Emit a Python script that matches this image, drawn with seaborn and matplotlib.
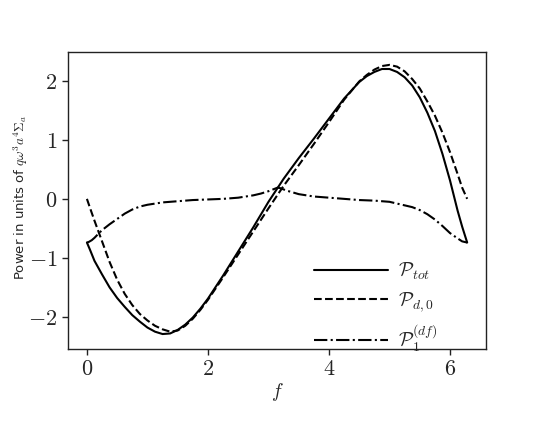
import matplotlib
matplotlib.use('Agg')
import matplotlib.pyplot as plt
import seaborn as sns
import pandas as pd

# 读图估计的数据: 实线与虚线共用 f_main，点划线用 f_df
f_main = [0.0, 0.05, 0.125, 0.25, 0.375, 0.5, 0.625, 0.75, 0.875, 1.0, 1.125, 1.25, 1.375,
          1.5, 1.625, 1.75, 1.875, 2.0, 2.25, 2.5, 2.75, 3.0, 3.25, 3.5, 3.75, 4.0, 4.25,
          4.5, 4.625, 4.75, 4.875, 5.0, 5.125, 5.25, 5.375, 5.5, 5.625, 5.75, 5.875, 6.0,
          6.125, 6.2, 6.283]
p_tot = [-0.74, -0.86, -1.05, -1.28, -1.50, -1.68, -1.83, -1.97, -2.08, -2.18, -2.25, -2.29,
         -2.28, -2.22, -2.13, -2.01, -1.86, -1.69, -1.30, -0.89, -0.48, -0.05, 0.34, 0.69,
         1.02, 1.36, 1.70, 1.98, 2.08, 2.15, 2.20, 2.20, 2.15, 2.06, 1.92, 1.72, 1.46, 1.15,
         0.76, 0.31, -0.20, -0.47, -0.74]
p_d0 = [0.0, -0.15, -0.37, -0.72, -1.07, -1.37, -1.61, -1.80, -1.95, -2.06, -2.15, -2.21,
        -2.25, -2.23, -2.15, -2.03, -1.88, -1.71, -1.33, -0.94, -0.55, -0.16, 0.22, 0.57,
        0.93, 1.30, 1.68, 1.99, 2.10, 2.19, 2.25, 2.27, 2.24, 2.16, 2.03, 1.87, 1.65, 1.41,
        1.12, 0.79, 0.42, 0.19, 0.0]

f_df = [0.0, 0.03, 0.08, 0.125, 0.21, 0.25, 0.375, 0.5, 0.625, 0.75, 0.875, 1.0, 1.25, 1.5,
        1.75, 2.0, 2.25, 2.5, 2.75, 2.875, 3.0, 3.1, 3.15, 3.2, 3.3, 3.5, 3.75, 4.0, 4.25,
        4.5, 4.75, 5.0, 5.125, 5.25, 5.375, 5.5, 5.625, 5.75, 5.875, 6.0, 6.125, 6.2, 6.283]
p_df = [-0.74, -0.73, -0.70, -0.66, -0.57, -0.53, -0.43, -0.34, -0.25, -0.18, -0.13, -0.10,
        -0.06, -0.04, -0.02, -0.01, 0.0, 0.02, 0.06, 0.09, 0.13, 0.17, 0.19, 0.18, 0.14,
        0.08, 0.04, 0.02, 0.0, -0.02, -0.03, -0.05, -0.08, -0.11, -0.14, -0.19, -0.26,
        -0.35, -0.46, -0.58, -0.67, -0.72, -0.74]

series_labels = [r'$\mathcal{P}_{tot}$', r'$\mathcal{P}_{d,0}$', r'$\mathcal{P}_1^{(df)}$']
series_styles = ['-', '--', '-.']
x_ticks = [0, 2, 4, 6]
y_ticks = [-2, -1, 0, 1, 2]

sns.set_style('ticks')
plt.rcParams['mathtext.fontset'] = 'cm'
plt.rcParams['font.family'] = ['DejaVu Sans']

main_df = pd.DataFrame({'f': f_main, 'tot': p_tot, 'd0': p_d0})
df_df = pd.DataFrame({'f': f_df, 'df': p_df})

fig = plt.figure(figsize=(5.39, 4.36), dpi=100)
ax = fig.add_axes([0.126, 0.2, 0.776, 0.681])

sns.lineplot(data=main_df, x='f', y='tot', ax=ax, color='black', linestyle=series_styles[0],
             linewidth=1.5, label=series_labels[0])
sns.lineplot(data=main_df, x='f', y='d0', ax=ax, color='black', linestyle=series_styles[1],
             linewidth=1.5, label=series_labels[1])
sns.lineplot(data=df_df, x='f', y='df', ax=ax, color='black', linestyle=series_styles[2],
             linewidth=1.5, label=series_labels[2])

ax.set_xlim(-0.314, 6.597)
ax.set_ylim(-2.54, 2.49)
ax.set_xticks(x_ticks)
ax.set_xticklabels([f'${t}$' for t in x_ticks], fontsize=16)
ax.set_yticks(y_ticks)
ax.set_yticklabels([f'${t}$' for t in y_ticks], fontsize=16)
ax.set_xlabel(r'$f$', fontsize=14, labelpad=1)
ax.set_ylabel(r'Power in units of $q\omega^3a^4\Sigma_a$', fontsize=9.5)
ax.yaxis.set_label_coords(-0.091, 0.51)
for sp in ax.spines.values():
    sp.set_color('#222222')
    sp.set_linewidth(1.0)
ax.tick_params(direction='out', length=4, width=1, color='#222222')

ax.legend(loc='lower left', bbox_to_anchor=(0.57, -0.043), borderaxespad=0,
          frameon=False, fontsize=14, handlelength=3.8, handletextpad=0.5,
          labelspacing=0.42)

fig.savefig('out.png', dpi=100)
